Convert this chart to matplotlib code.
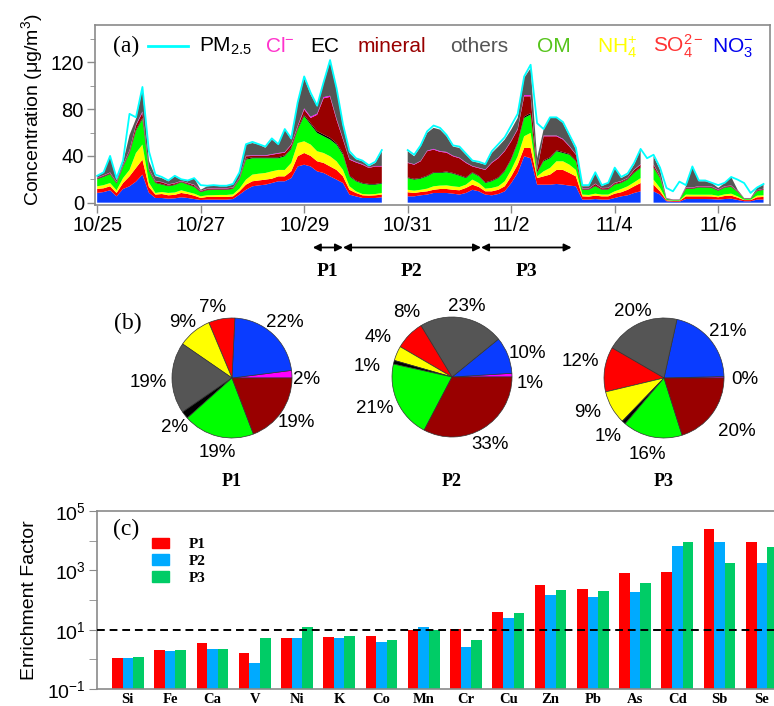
import numpy as np
import pandas as pd
import matplotlib
matplotlib.use('Agg')
import matplotlib.pyplot as plt
import matplotlib.dates as mdates
from matplotlib.ticker import FixedLocator, NullFormatter, FixedFormatter
from matplotlib.patches import Patch

plt.rcParams['font.family'] = ['Liberation Sans', 'DejaVu Sans']
plt.rcParams['mathtext.fontset'] = 'custom'
plt.rcParams['mathtext.rm'] = 'Liberation Sans'
plt.rcParams['mathtext.it'] = 'Liberation Sans:italic'
plt.rcParams['mathtext.bf'] = 'Liberation Sans:bold'

N = np.nan
# ---------------- (a) time series, 3-hourly from 10/25 00:00 ----------------
start_time = '2015-10-25 00:00'
no3 = [8.3, 9.1, 10.6, 5.4, 11.7, 14, 18, 24, 8.5, 4, 4, 3.4, 3.7, 4.6, 4, 3.1, 2.3, 2.6, 2.6, 2.6,
       2.6, 3.1, 6.9, 11, 14, 14.8, 15.4, 16.8, 18.3, 18.3, 21, 31, 32.5, 31, 26.8, 25.4, 22.5, 19.7, 16.8, 6.9,
       5.4, 4, 4, 4, 4.6, N, N, N, 5.4, 5.4, 6.3, 6.9, 8.3, 8.3, 8.3, 7.7, 6.9, 8.3, 11, 9.7,
       6.9, 6.3, 7.4, 9.7, 16.8, 25.4, 39.7, 38, 15.4, 15.4, 15.4, 16, 15.4, 14.6, 14, 2.6, 2.6, 3.1, 2.6, 2.6,
       4, 5.4, 6.3, 8.3, 9.7, N, 9.7, 6.9, 1.2, 0.8, 0.8, 3.1, 3.1, 3.1, 3.1, 3, 2.6, 3.1, 3.4, 2.3,
       1.2, 1.2, 2.6, 2.6]
so4 = [3.4, 3.2, 3.4, 2.9, 5.1, 8.5, 11.7, 12.8, 5, 2.9, 3.4, 2.9, 3.0, 3.7, 3.4, 2.9, 1.7, 2.3, 2.3, 2.3,
       2.3, 2.3, 2.8, 4.4, 4.3, 4.2, 4.3, 3.7, 4.2, 4.2, 5.8, 8.7, 10, 9, 8.6, 8.6, 8.5, 8.3, 5.7, 4.1,
       2.9, 2.3, 2, 2.3, 2.3, N, N, N, 3.5, 2.9, 2.8, 2.8, 2.7, 3.4, 3.4, 3.3, 3.7, 4.3, 4.4, 3.7,
       2.8, 3.4, 3.6, 4.3, 5.7, 7.1, 7.1, 8.8, 5.6, 7.1, 8.6, 12, 12.6, 10.8, 8.5, 2.8, 2.6, 2.9, 2.8, 2.8,
       3.7, 3.5, 4.7, 5.7, 7.1, N, 5.7, 2.8, 0.8, 0.7, 0.7, 2.3, 2.3, 2.3, 2.3, 2.3, 2, 2.6, 2.6, 2.0,
       1.0, 1.0, 2, 2.3]
nh4 = [2.3, 2.7, 2.8, 2.3, 4.2, 5.5, 12.8, 12.9, 3.7, 1.4, 1.7, 2.0, 2.0, 2.3, 1.7, 1.7, 1.4, 1.4, 1.5, 1.7,
       1.7, 1.7, 2.3, 4.3, 5.7, 5.8, 5.7, 6.3, 5.5, 5.5, 7.2, 11.3, 10, 9.7, 8.6, 8.5, 8.7, 7.4, 5.5, 3,
       1.4, 1.1, 1.1, 1.1, 1.4, N, N, N, 2.1, 2, 1.9, 2.3, 3, 2.9, 3.1, 3, 2.8, 2.8, 4.3, 3.4,
       2.3, 2.9, 3, 4.3, 5.5, 7.2, 10, 12.9, 1.5, 4.3, 5.7, 7.4, 7.4, 7.1, 5.5, 1.5, 1.4, 1.7, 1.5, 1.5,
       2, 2.8, 3, 3.4, 4.2, N, 4.3, 2.9, 0.3, 0.2, 0.2, 1.5, 1.4, 1.4, 1.4, 1.5, 1.2, 1.4, 1.7, 1.1,
       0.3, 0.3, 1.4, 1.4]
om = [6.0, 7.0, 7.5, 5.7, 9.5, 14, 19, 21.8, 10, 8.5, 6.3, 5.7, 6.3, 6.8, 6.3, 5.7, 3.5, 4.3, 4.5, 4.3,
      4.3, 4.6, 7.7, 17.1, 14, 13.2, 12.6, 11.2, 10, 11.7, 12, 11.5, 21.5, 17.1, 15.7, 14.3, 14.3, 14.3, 13, 8.5,
      8.6, 8.9, 8.3, 8, 8, N, N, N, 10, 9.4, 9.5, 10.5, 11.4, 10.8, 11.2, 10.8, 9.6, 5.6, 5.7, 5.7,
      4.8, 5.7, 7, 8.5, 8.8, 11.3, 15.7, 15.7, 2.9, 8.6, 8.3, 8.6, 7.1, 8.5, 7.4, 4.1, 4.4, 6.3, 4.1, 4.3,
      5.7, 5.1, 5.7, 8, 8.7, N, 10, 8.4, 0.8, 0.5, 0.5, 4.8, 4.9, 6.2, 6.0, 5.7, 4.3, 5.7, 5.7, 3.7,
      0.8, 0.8, 3.7, 4.6]
ec = [0.5, 0.5, 0.5, 0.5, 0.5, 0.8, 1.0, 1.0, 0.5, 0.5, 0.5, 0.5, 0.5, 0.4, 0.4, 0.5, 0.4, 0.4, 0.4, 0.4,
      0.4, 0.4, 0.5, 0.8, 0.8, 0.8, 0.8, 0.8, 0.8, 0.8, 0.8, 1.0, 1.2, 1.2, 1.5, 1.5, 1.5, 1.2, 1.2, 0.8,
      0.6, 0.6, 0.6, 0.6, 0.6, N, N, N, 0.6, 0.6, 0.6, 0.6, 0.6, 0.6, 0.6, 0.6, 0.6, 0.6, 0.6, 0.6,
      0.6, 0.6, 0.6, 0.7, 0.8, 1.0, 1.2, 1.3, 0.5, 0.8, 0.8, 0.8, 0.8, 0.7, 0.6, 0.4, 0.4, 0.5, 0.4, 0.4,
      0.5, 0.5, 0.5, 0.6, 0.6, N, 0.6, 0.5, 0.2, 0.1, 0.1, 0.4, 0.4, 0.4, 0.4, 0.4, 0.4, 0.4, 0.4, 0.3,
      0.2, 0.2, 0.3, 0.3]
mineral = [0.6, 0.7, 0.7, 0.7, 1.0, 1.5, 3.5, 4.5, 1.2, 1.0, 1.5, 0.9, 1.0, 0.5, 0.9, 1.1, 0.7, 0.7, 0.8, 0.8,
           0.8, 0.7, 0.8, 2.1, 1.2, 1.2, 1.2, 2.2, 3.2, 2.3, 2.5, 1.5, 4.5, 4.5, 14, 31, 35, 20, 11.8, 13.5,
           15.5, 15.6, 13.7, 15, 14.1, N, N, N, 12.4, 12.2, 14.3, 20.9, 19.4, 17.5, 16.2, 14.3, 14.4, 12.4, 5, 6.4,
           10.6, 15.1, 16.4, 16.5, 14.9, 10.5, 17.3, 14.3, 2.1, 20.6, 18, 12, 10.7, 6.3, 5, 0.6, 0.6, 1.5, 0.9, 0.9,
           0.9, 1.0, 0.8, 2, 2.2, N, 2.2, 1, 0.2, 0.2, 0.2, 0.7, 0.6, 0.5, 0.6, 0.6, 0.5, 0.6, 0.6, 0.5,
           0.2, 0.2, 0.6, 0.6]
cl = [0.3, 0.3, 0.3, 0.3, 0.4, 0.5, 0.7, 1.0, 0.4, 0.3, 0.3, 0.3, 0.3, 0.3, 0.3, 0.3, 0.3, 0.3, 0.3, 0.3,
      0.3, 0.3, 0.3, 0.5, 0.5, 0.5, 0.5, 0.5, 0.5, 0.5, 0.6, 0.8, 1.0, 1.0, 1.0, 1.0, 1.0, 1.0, 0.8, 0.6,
      0.5, 0.5, 0.4, 0.4, 0.4, N, N, N, 0.4, 0.4, 0.4, 0.5, 0.6, 0.6, 0.6, 0.5, 0.5, 0.5, 0.4, 0.4,
      0.4, 0.5, 0.5, 0.5, 0.6, 0.7, 1.0, 1.0, 0.3, 0.6, 0.6, 0.6, 0.6, 0.5, 0.4, 0.3, 0.3, 0.3, 0.3, 0.3,
      0.3, 0.3, 0.3, 0.4, 0.4, N, 0.4, 0.3, 0.1, 0.1, 0.1, 0.3, 0.3, 0.3, 0.3, 0.3, 0.3, 0.3, 0.3, 0.2,
      0.1, 0.1, 0.2, 0.2]
others = [1.4, 2.0, 14, 1.4, 2.1, 13, 5, 19, 6.5, 3.9, 3.3, 2.6, 5.7, 1.1, 1.3, 5.7, 0.7, 2.0, 2.2, 1.6,
          1.6, 2.3, 4.1, 9.5, 10.5, 9.2, 6.5, 12.5, 7.2, 19.2, 4, 19, 26, 19, 6, 12, 29, 24.9, 10.6, 5.1,
          2.3, 2.4, 0.9, 2.6, 12.6, N, N, N, 9.6, 6.8, 12.2, 15.2, 18, 18.4, 13.4, 7.8, 8.3, 6.5, 4, 4.1,
          4.1, 8, 9.5, 9.5, 9.4, 9.3, 14.8, 23, 9.7, 5.1, 15.1, 15.1, 13.4, 8.3, 4, 1.7, 1.7, 9.1, 1.4, 4,
          12.6, 2.4, 2.7, 4.1, 12.5, N, 6.8, 5.2, 0.4, 0.2, 0.2, 0.9, 17.3, 4.1, 4.2, 3.0, 1.3, 2.7, 7.3, 0.9,
          0.2, 0.2, 1.8, 3.4]
pm25 = [23, 26, 40, 21, 36, 76, 73, 99, 44, 24, 22, 19, 23, 20, 19, 21, 15, 14.5, 15, 14.5,
        14.5, 16, 26, 50, 52, 50, 48, 55, 50, 63, 55, 86, 108, 94, 83, 103, 122, 98, 67, 44,
        38, 36, 32, 35, 45, N, N, N, 45, 41, 49, 61, 66, 64, 58, 49, 48, 42, 36, 35,
        33, 44, 50, 56, 66, 76, 108, 118, 68, 63, 73, 73, 69, 58, 47, 15, 15, 26, 15, 17,
        30, 22, 25, 34, 46, 38, 41, 30, 12.6, 9.7, 18, 15, 31, 19, 19, 17, 15, 17, 22, 19.7,
        16.8, 8.3, 13, 16]

time_ticks = ['2015-10-25', '2015-10-27', '2015-10-29', '2015-10-31', '2015-11-02', '2015-11-04', '2015-11-06']
time_tick_labels = ['10/25', '10/27', '10/29', '10/31', '11/2', '11/4', '11/6']
period_names = ['P1', 'P2', 'P3']
period_bounds = ['2015-10-29 04:00', '2015-10-29 18:00', '2015-11-01 10:00', '2015-11-03 04:00']

# ---------------- (b) pies: percentages [NO3, SO4, NH4, OM, EC, mineral, Cl, others] ----------------
pie_P1 = [22, 7, 9, 19, 2, 19, 2, 19]
pie_P2 = [10, 8, 4, 21, 1, 33, 1, 23]
pie_P3 = [21, 12, 9, 16, 1, 20, 0.4, 20]

# ---------------- (c) enrichment factors ----------------
elements = ['Si', 'Fe', 'Ca', 'V', 'Ni', 'K', 'Co', 'Mn', 'Cr', 'Cu', 'Zn', 'Pb', 'As', 'Cd', 'Sb', 'Se']
ef_P1 = [1.08, 2.0, 3.5, 1.6, 5.3, 5.6, 6.0, 9.7, 10.3, 40, 325, 230, 800, 900, 24000, 9100]
ef_P2 = [1.08, 1.9, 2.3, 0.77, 5.1, 5.1, 3.9, 12.2, 2.65, 25, 142, 123, 185, 6700, 8700, 1780]
ef_P3 = [1.17, 2.0, 2.3, 5.3, 12.2, 6.0, 4.6, 9.7, 4.5, 36, 210, 195, 363, 8700, 1780, 6000]
ef_threshold = 10

# ---------------- styling ----------------
W, H = 774, 706
comp_colors = ['#0a3cff', '#ff0000', '#ffff00', '#00ff00', '#000000', '#990000', '#ff00ff', '#555555']
frame_col = '#8a8a8a'
SERIF = ['Liberation Serif', 'DejaVu Serif']


def rect(l, t, r, b):
    return [l / W, 1 - b / H, (r - l) / W, (b - t) / H]


fig = plt.figure(figsize=(W / 100, H / 100), dpi=100)

# ===== panel (a) =====
axA = fig.add_axes(rect(95, 25, 770, 205))
times = pd.date_range(start_time, periods=len(no3), freq='3h')
tnum = mdates.date2num(times.to_pydatetime())
layers = np.array([no3, so4, nh4, om, ec, mineral, cl, others], dtype=float)
axA.stackplot(tnum, layers, colors=comp_colors, linewidth=0)
axA.plot(tnum, pm25, color='#00ffff', lw=1.3, zorder=3)
axA.set_xlim(mdates.date2num(pd.Timestamp('2015-10-24 23:00')), mdates.date2num(pd.Timestamp('2015-11-07 00:00')))
axA.set_ylim(-2, 152)
axA.xaxis.set_major_locator(FixedLocator(mdates.date2num(pd.to_datetime(time_ticks).to_pydatetime())))
axA.xaxis.set_major_formatter(FixedFormatter(time_tick_labels))
axA.yaxis.set_major_locator(FixedLocator([0, 40, 80, 120]))
axA.yaxis.set_minor_locator(FixedLocator([20, 60, 100, 140]))
axA.tick_params(axis='both', which='major', labelsize=14.5, direction='out', length=6, color=frame_col, width=1)
axA.tick_params(axis='y', which='minor', direction='out', length=3.5, color=frame_col)
axA.tick_params(axis='x', pad=2)
axA.tick_params(axis='y', pad=2)
for s in axA.spines.values():
    s.set_color(frame_col)
    s.set_linewidth(1.2)
fig.text(32 / W, 1 - 110 / H, 'Concentration (μg/m$^3$)', rotation=90, ha='center', va='center', fontsize=14)

# legend-like coloured labels
fig.text(113 / W, 1 - 52 / H, '(a)', fontsize=17, family=SERIF, va='baseline')
fig.add_artist(plt.Line2D([148 / W, 188 / W], [1 - 46 / H, 1 - 46 / H], color='#00ffff', lw=2))
leg_items = [(199, 'PM$_{2.5}$', 'black'), (265, 'Cl$^{-}$', '#ff33cc'), (310, 'EC', 'black'),
             (358, 'mineral', '#990000'), (450, 'others', '#555555'), (537, 'OM', '#55c41a'),
             (597, 'NH$_4^{+}$', '#ffff00'), (653, 'SO$_4^{2-}$', '#ff3333'), (712, 'NO$_3^{-}$', '#0000ee')]
for x, txt, c in leg_items:
    fig.text(x / W, 1 - 52 / H, txt, fontsize=15, color=c, va='baseline')

# period arrows
pb = mdates.date2num(pd.to_datetime(period_bounds).to_pydatetime())
trans = axA.get_xaxis_transform()
for i, name in enumerate(period_names):
    axA.annotate('', xy=(pb[i + 1], -0.236), xytext=(pb[i], -0.236), xycoords=trans, textcoords=trans,
                 arrowprops=dict(arrowstyle='<|-|>', color='black', lw=1.3, mutation_scale=11,
                                 shrinkA=0, shrinkB=0), annotation_clip=False)
    axA.text((pb[i] + pb[i + 1]) / 2, -0.372, name, transform=trans, ha='center', va='center',
             fontsize=14, fontweight='bold', family=SERIF)

# ===== panel (b) =====
pie_data = [pie_P1, pie_P2, pie_P3]
pie_orders = [[6, 0, 1, 2, 7, 4, 3, 5], [6, 0, 7, 1, 2, 4, 3, 5], [6, 0, 7, 1, 2, 4, 3, 5]]
pie_centers = [(232, 378), (452, 377), (664, 378)]
R = 60
# label positions (radius units) per component [NO3, SO4, NH4, OM, EC, mineral, Cl, others]
pie_label_pos = [
    [(0.88, 0.92), (-0.32, 1.18), (-0.83, 0.92), (-0.25, -1.25), (-0.95, -0.82), (1.08, -0.75), (1.25, -0.03), (-1.4, -0.08)],
    [(1.25, 0.40), (-0.75, 1.07), (-1.23, 0.65), (-1.28, -0.52), (-1.42, 0.17), (0.63, -1.13), (1.3, -0.1), (0.25, 1.17)],
    [(1.07, 0.77), (-1.4, 0.27), (-1.28, -0.58), (-0.28, -1.28), (-0.93, -0.98), (1.22, -0.9), (1.35, -0.03), (-0.52, 1.1)],
]
for vals, order, (cx, cy), lpos, name in zip(pie_data, pie_orders, pie_centers, pie_label_pos, period_names):
    ax = fig.add_axes(rect(cx - 100, cy - 100, cx + 100, cy + 100))
    ax.pie([vals[j] for j in order], colors=[comp_colors[j] for j in order], startangle=0,
           counterclock=True, radius=1, wedgeprops=dict(edgecolor='#333333', linewidth=0.5))
    ax.set_xlim(-100 / R, 100 / R)
    ax.set_ylim(-100 / R, 100 / R)
    ax.set_aspect('equal')
    ax.axis('off')
    for j, v in enumerate(vals):
        ax.text(lpos[j][0], lpos[j][1], f'{v:.0f}%', ha='center', va='center', fontsize=13.5)
    fig.text(cx / W, 1 - 481 / H, name, ha='center', va='center', fontsize=13, fontweight='bold', family=SERIF)
fig.text(128 / W, 1 - 323 / H, '(b)', ha='center', va='center', fontsize=17, family=SERIF)

# ===== panel (c) =====
axC = fig.add_axes(rect(97, 511, 783, 689))
xpos = np.arange(len(elements))
bar_colors = ['#ff0000', '#00aaff', '#00cc66']
for k, (vals, c) in enumerate(zip([ef_P1, ef_P2, ef_P3], bar_colors)):
    axC.bar(xpos + (k - 1) * 0.25, vals, width=0.25, color=c, label=period_names[k], zorder=2)
axC.set_yscale('log')
axC.set_ylim(0.1, 1e5)
axC.set_xlim(-0.73, 15.5)
axC.axhline(ef_threshold, color='black', ls=(0, (4, 2.5)), lw=1.4, zorder=3)
axC.yaxis.set_major_locator(FixedLocator([0.1, 10, 1000, 1e5]))
axC.yaxis.set_major_formatter(FixedFormatter([r'$10^{-1}$', r'$10^{1}$', r'$10^{3}$', r'$10^{5}$']))
axC.yaxis.set_minor_locator(FixedLocator([1, 100, 1e4]))
axC.yaxis.set_minor_formatter(NullFormatter())
axC.tick_params(axis='y', which='both', direction='out', length=6, color=frame_col, labelsize=14, pad=2)
axC.set_xticks(xpos)
axC.set_xticklabels(elements, fontsize=10.5, fontweight='bold', family=SERIF)
axC.tick_params(axis='x', length=0, pad=3)
for s in axC.spines.values():
    s.set_color(frame_col)
    s.set_linewidth(1.2)
fig.text(30 / W, 1 - 600 / H, 'Enrichment Factor', rotation=90, ha='center', va='center', fontsize=14)
fig.text(113 / W, 1 - 535 / H, '(c)', fontsize=17, family=SERIF, va='baseline')
handles = [Patch(color=c) for c in bar_colors]
axC.legend(handles, period_names, loc='upper left', bbox_to_anchor=(0.08, 0.85), frameon=False,
           prop=dict(family=SERIF, weight='bold', size=11), handlelength=1.1, handleheight=0.7,
           handletextpad=1.3, labelspacing=0.2, borderpad=0, borderaxespad=0)

fig.savefig('out.png', dpi=100)
